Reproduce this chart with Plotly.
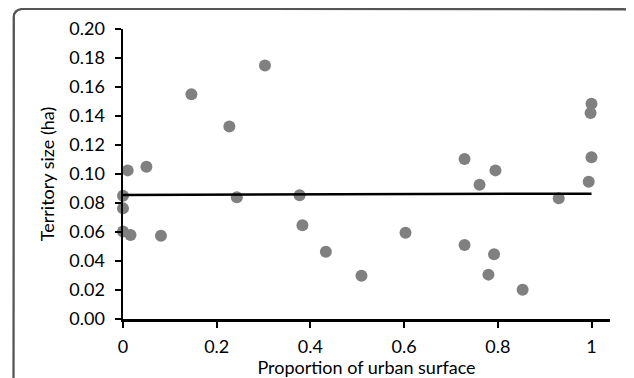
import numpy as np
import plotly.graph_objects as go

# Data
urban_prop = [0.0, 0.0, 0.0, 0.010, 0.016, 0.050, 0.081, 0.146, 0.227, 0.243,
              0.303, 0.377, 0.383, 0.433, 0.509, 0.603, 0.729, 0.729, 0.761,
              0.780, 0.795, 0.792, 0.853, 0.930, 0.994, 0.998, 1.0, 1.0]
territory_ha = [0.085, 0.0763, 0.0604, 0.1025, 0.058, 0.105, 0.0574, 0.155,
                0.1328, 0.0839, 0.1749, 0.0853, 0.0646, 0.0464, 0.0299, 0.0595,
                0.1103, 0.051, 0.0926, 0.0306, 0.1025, 0.0446, 0.0202, 0.0832,
                0.0947, 0.142, 0.1115, 0.1485]
x_tickvals = [0, 0.2, 0.4, 0.6, 0.8, 1]
x_ticktext = ["0", "0.2", "0.4", "0.6", "0.8", "1"]
y_tickvals = [0.0, 0.02, 0.04, 0.06, 0.08, 0.10, 0.12, 0.14, 0.16, 0.18, 0.20]

# Linear trendline computed from the data
slope, intercept = np.polyfit(urban_prop, territory_ha, 1)
trend_x = [min(urban_prop), max(urban_prop)]
trend_y = [intercept + slope * v for v in trend_x]

FONT = "Lato"
OFF = 8  # default page body margin in the browser
W, H = 634 - OFF, 378 - OFF
# plot area in figure pixels
PL, PR, PT, PB = 123 - OFF, 610 - OFF, 29 - OFF, 319 - OFF
pw = PR - PL

fig = go.Figure()

# decorative rounded frame, drawn on a full-figure helper subplot in pixel units
fl, fr, ft, fb, rad = 13.5 - OFF, 632.5 - OFF, 1.0, H + 30, 9.0
a1 = np.linspace(np.pi, 1.5 * np.pi, 10)
a2 = np.linspace(1.5 * np.pi, 2 * np.pi, 10)
frame_x = ([fl] + list(fl + rad + rad * np.cos(a1)) + list(fr - rad + rad * np.cos(a2)) + [fr])
frame_y = ([fb] + list(ft + rad + rad * np.sin(a1)) + list(ft + rad + rad * np.sin(a2)) + [fb])
fig.add_trace(go.Scatter(x=frame_x, y=frame_y, mode="lines", xaxis="x2", yaxis="y2",
                         line=dict(color="#555555", width=1.8),
                         showlegend=False, hoverinfo="skip"))

fig.add_trace(go.Scatter(x=urban_prop, y=territory_ha, mode="markers",
                         marker=dict(color="#808080", size=12, line=dict(width=0)),
                         showlegend=False, cliponaxis=False))
fig.add_trace(go.Scatter(x=trend_x, y=trend_y, mode="lines",
                         line=dict(color="black", width=2.5),
                         showlegend=False))

# same frame also as a layout shape (paper coords == full figure since margins are 0)
rxp, ryp = rad / W, rad / H
sx0, sx1 = fl / W, fr / W
sy_top, sy_bot = 1 - ft / H, -0.1
path = (f"M {sx0},{sy_bot} L {sx0},{sy_top - ryp} Q {sx0},{sy_top} {sx0 + rxp},{sy_top} "
        f"L {sx1 - rxp},{sy_top} Q {sx1},{sy_top} {sx1},{sy_top - ryp} L {sx1},{sy_bot}")
fig.add_shape(type="path", path=path, xref="paper", yref="paper",
              line=dict(color="#555555", width=1.8), layer="above")

fig.update_layout(
    width=W, height=H,
    margin=dict(l=0, r=0, t=0, b=0, autoexpand=False),
    paper_bgcolor="white", plot_bgcolor="rgba(0,0,0,0)",
    font=dict(family=FONT, size=18, color="black"),
    xaxis=dict(domain=[PL / W, PR / W], anchor="y",
               range=[0, pw / 468.5], tickvals=x_tickvals, ticktext=x_ticktext,
               automargin=False,
               showline=True, linecolor="black", linewidth=2.5,
               ticks="outside", ticklen=6, tickwidth=2, tickcolor="black",
               ticklabelstandoff=4,
               showgrid=False, zeroline=False,
               title=dict(text="Proportion of urban surface", standoff=9,
                          font=dict(size=18))),
    yaxis=dict(domain=[(H - PB) / H, (H - PT) / H], anchor="x",
               range=[0, 0.2], tickvals=y_tickvals, tickformat=".2f",
               automargin=False,
               showline=True, linecolor="black", linewidth=2.5,
               ticks="outside", ticklen=6, tickwidth=2, tickcolor="black",
               ticklabelstandoff=6,
               showgrid=False, zeroline=False,
               title=dict(text="Territory size (ha)", standoff=10,
                          font=dict(size=18))),
    xaxis2=dict(domain=[0, 1], range=[0, W], visible=False, anchor="y2",
                fixedrange=True),
    yaxis2=dict(domain=[0, 1], range=[H, 0], visible=False, anchor="x2",
                fixedrange=True),
)

fig.write_html("out.html", config={"staticPlot": True, "displayModeBar": False})
